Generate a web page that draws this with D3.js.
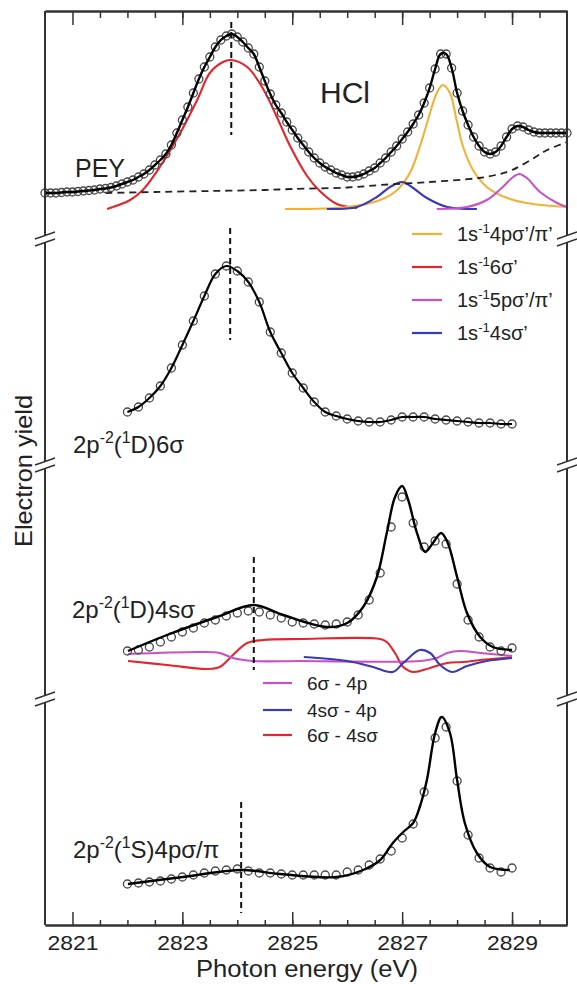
<!DOCTYPE html>
<html><head><meta charset="utf-8">
<script src="https://cdn.jsdelivr.net/npm/d3@7"></script>
<style>
body{margin:0;background:#fff}
svg{display:block}
text{font-family:"Liberation Sans",Arial,Helvetica,sans-serif;fill:#222}
</style>
</head><body>
<svg id="chart" width="577" height="984"></svg>
<script>
// ---------------- DATA ----------------
const majorTicks = [2821, 2823, 2825, 2827, 2829];
const minorTicks = [2821.5, 2822, 2822.5, 2823, 2823.5, 2824, 2824.5, 2825, 2825.5, 2826, 2826.5, 2827, 2827.5, 2828, 2828.5, 2829, 2829.5];

// Panel 1: HCl PEY (measured points)
const peyEnergy = [2820.5,2820.6,2820.7,2820.8,2820.9,2821.0,2821.1,2821.2,2821.3,2821.4,2821.5,2821.6,2821.7,2821.8,2821.9,2822.0,
 2822.1,2822.2,2822.3,2822.4,2822.5,2822.6,2822.7,2822.8,2822.9,2823.0,2823.1,2823.2,2823.3,2823.4,2823.5,2823.6,2823.7,2823.8,2823.9,2824.0,
 2824.1,2824.2,2824.3,2824.4,2824.5,2824.6,2824.7,2824.8,2824.9,2825.0,2825.1,2825.2,2825.3,2825.4,2825.5,2825.6,2825.7,2825.8,2825.9,2826.0,
 2826.1,2826.2,2826.3,2826.4,2826.5,2826.6,2826.7,2826.8,2826.9,2827.0,2827.1,2827.2,2827.3,2827.4,2827.5,2827.6,2827.7,2827.8,2827.9,2828.0,
 2828.1,2828.2,2828.3,2828.4,2828.5,2828.6,2828.7,2828.8,2828.9,2829.0,2829.1,2829.2,2829.3,2829.4,2829.5,2829.6,2829.7,2829.8,2829.9,2830.0];
const peyYield = [43,43,43,43.5,44,44,44.5,45,45.5,46,47,47.5,48.5,50,52,54,
 56,59,62,66,71,76,82,91,103,116,129,143,157,169,179,189,196,200,202,199,
 194,188,182,169,155,142,131,123,114,106,98,91,84,78,73,69,66,63,61,59,
 59,60,62,65,68,73,78,84,90,97,104,112,121,133,148,167,182,182,168,143,
 125,111,99,90,84,82,84,90,99,107,110,109,106,104,103,103,103,103,103,103];
const peyBackground = [[2821.6,43],[2822.5,44],[2823.5,45],[2824.5,46],[2825.0,47],[2826.0,48.5],[2826.6,51],[2827.5,54],[2828.4,58],[2828.7,61],[2829.0,66],[2829.4,78],[2829.64,86],[2830.0,94]];
const comp6s = [[2821.63,27],[2822.05,36],[2822.28,46],[2822.59,69],[2822.96,103],[2823.27,136],[2823.50,163],[2823.74,174],[2823.89,176],[2824.18,169],[2824.45,149],[2824.72,119],[2824.96,90],[2825.27,60],[2825.50,45],[2825.81,32],[2826.18,28]];
const comp4p = [[2824.87,27],[2826.0,29],[2826.6,36],[2826.91,46],[2827.14,63],[2827.32,89],[2827.47,116],[2827.63,143],[2827.74,151],[2827.87,143],[2827.99,116],[2828.11,89],[2828.29,66],[2828.54,49],[2828.91,38],[2829.38,32],[2830.0,29]];
const comp4s = [[2825.63,27],[2826.18,29],[2826.54,39],[2826.78,49],[2827.0,54],[2827.2,48],[2827.45,38],[2827.82,29],[2828.36,27]];
const comp5p = [[2827.63,27],[2828.18,29],[2828.54,36],[2828.83,49],[2829.02,59],[2829.13,62],[2829.27,58],[2829.51,44],[2829.82,33],[2830.0,29]];

// Panels 2-4: resonant Auger channels
const scanEnergy = [2822.0,2822.2,2822.4,2822.6,2822.8,2823.0,2823.2,2823.4,2823.6,2823.8,2824.0,2824.2,2824.4,2824.6,2824.8,2825.0,2825.2,2825.4,
 2825.6,2825.8,2826.0,2826.2,2826.4,2826.6,2826.8,2827.0,2827.2,2827.4,2827.6,2827.8,2828.0,2828.2,2828.4,2828.6,2828.8,2829.0];
const yield1D6s = [54,59,68,80,98,121,145,170,192,200,195,184,164,134,113,93,78,64,54,50,47,45,44,44,46,49,49,49,47,46,45,44,43,43,42,42];
const yield1D4s = [48,49,52,57,62,67,71,76,79,83,86,88,87,84,81,77,76,75,74,75,77,84,99,126,172,202,176,152,158,155,115,79,62,52,48,51];
const yield1S4p = [43,44,45,46,48,50,52,54,56,57,58,56,54,54,53,52,52,52,52,52,55,57,62,68,76,89,103,135,189,200,146,92,69,59,55,59];
const fit1D4s = [[2822.01,48],[2822.72,64],[2823.63,82],[2824.30,94],[2824.83,84],[2825.63,72],[2826.0,76],[2826.29,92],[2826.54,122],[2826.72,166],[2826.87,202],[2827.0,213],[2827.11,199],[2827.27,166],[2827.42,147],[2827.56,156],[2827.71,166],[2827.83,156],[2828.0,122],[2828.18,86],[2828.42,62],[2828.65,52],[2829.0,49]];
const int6s4s = [[2822.01,38],[2822.72,34],[2823.45,30],[2823.68,32],[2823.92,44],[2824.18,56],[2824.47,59],[2825.14,60],[2826.6,60],[2826.72,57],[2826.87,46],[2827.02,32],[2827.2,27],[2827.51,31],[2827.82,36],[2828.11,37],[2828.42,39],[2829.0,42]];
const int6s4p = [[2822.01,45],[2823.32,47],[2823.68,46],[2823.92,41],[2824.29,38],[2825.14,38],[2827.32,38],[2827.63,41],[2827.82,46],[2828.05,48],[2828.42,46],[2829.0,43]];
const int4s4p = [[2825.21,42],[2826.0,38],[2826.47,32],[2826.83,27],[2827.02,36],[2827.32,49],[2827.51,46],[2827.69,34],[2827.91,27],[2828.18,33],[2828.54,38],[2829.0,41]];
const fit1S4p = [[2822.01,43],[2823.01,50],[2824.07,57],[2824.78,53],[2825.81,50],[2826.29,57],[2826.6,67],[2826.83,84],[2827.02,95],[2827.2,104],[2827.32,120],[2827.45,147],[2827.6,194],[2827.72,210],[2827.87,194],[2828.0,147],[2828.14,104],[2828.36,74],[2828.6,60],[2828.96,57]];
const markerEnergy = [2823.89, 2823.87, 2824.30, 2824.07];

const legend1 = [["4pσ’/π’","#f2b134"],["6σ’","#e3262b"],["5pσ’/π’","#c951c6"],["4sσ’","#3a3ab5"]];
const legend2 = [["6σ - 4p","#c951c6"],["4sσ - 4p","#3a3ab5"],["6σ - 4sσ","#e3262b"]];

// ---------------- DRAW ----------------
const svg = d3.select("#chart");
const AX = "#333";
const x = d3.scaleLinear().domain([2820.5, 2830]).range([45, 567]);
const y1 = d3.scaleLinear().domain([0, 225]).range([236, 11]);
const y2 = d3.scaleLinear().domain([0, 230]).range([466, 236]);
const y3 = d3.scaleLinear().domain([0, 233]).range([699, 466]);
const y4 = d3.scaleLinear().domain([0, 228]).range([927, 699]);

const lineFn = ys => d3.line().x(d => x(d[0])).y(d => ys(d[1])).curve(d3.curveCatmullRom.alpha(0.5));
const zip = (a, b) => a.map((v, i) => [v, b[i]]);

function curve(data, ys, color, w, dash) {
  svg.append("path").datum(data).attr("d", lineFn(ys))
    .attr("fill", "none").attr("stroke", color).attr("stroke-width", w)
    .attr("stroke-dasharray", dash || null).attr("stroke-linejoin", "round");
}
function circles(data, ys, r) {
  svg.append("g").selectAll("circle").data(data).join("circle")
    .attr("cx", d => x(d[0])).attr("cy", d => ys(d[1])).attr("r", r)
    .attr("fill", "none").attr("stroke", "#4a4a4a").attr("stroke-width", 1.3);
}
function vmark(e, ya, yb) {
  svg.append("line").attr("x1", x(e)).attr("x2", x(e)).attr("y1", ya).attr("y2", yb)
    .attr("stroke", "#111").attr("stroke-width", 2).attr("stroke-dasharray", "6,4");
}
function richText(px, py, size, parts, fill) {
  const t = svg.append("text").attr("x", px).attr("y", py).attr("font-size", size).style("fill", fill || "#222");
  let up = false;
  parts.forEach(p => {
    const sup = p[1] === true;
    const ts = t.append("tspan").text(p[0]);
    if (sup && !up) { ts.attr("dy", -size * 0.42).attr("font-size", size * 0.66); up = true; }
    else if (sup) { ts.attr("font-size", size * 0.66); }
    else if (up) { ts.attr("dy", size * 0.42); up = false; }
  });
  return t;
}

// Panel 1
curve(comp6s, y1, "#e3262b", 2.1);
curve(comp4p, y1, "#f2b134", 2.1);
curve(comp4s, y1, "#3a3ab5", 2.1);
curve(comp5p, y1, "#c951c6", 2.1);
curve(peyBackground, y1, "#222", 1.8, "7,5");
const peyData = zip(peyEnergy, peyYield);
circles(peyData, y1, 4);
curve(peyData, y1, "#000", 2.4);
vmark(markerEnergy[0], 22, 135);

// Panel 2
const p2 = zip(scanEnergy, yield1D6s);
circles(p2, y2, 4);
curve(p2, y2, "#000", 2.2);
vmark(markerEnergy[1], 228, 340);

// Panel 3
curve(int6s4s, y3, "#e3262b", 2.1);
curve(int6s4p, y3, "#c951c6", 2.1);
curve(int4s4p, y3, "#3a3ab5", 2.1);
circles(zip(scanEnergy, yield1D4s), y3, 4);
curve(fit1D4s, y3, "#000", 2.4);
vmark(markerEnergy[2], 557, 670);

// Panel 4
circles(zip(scanEnergy, yield1S4p), y4, 4);
curve(fit1S4p, y4, "#000", 2.4);
vmark(markerEnergy[3], 802, 913);

// Axes (bottom)
const gb = svg.append("g").attr("transform", "translate(0,925)");
gb.call(d3.axisBottom(x).tickValues(minorTicks).tickSizeInner(-5).tickSizeOuter(0).tickFormat(""));
gb.append("g").call(d3.axisBottom(x).tickValues(majorTicks).tickSizeInner(-13).tickSizeOuter(0).tickPadding(10).tickFormat(d3.format("d")));
gb.selectAll("path.domain").attr("stroke", AX).attr("stroke-width", 2);
gb.selectAll(".tick line").attr("stroke", AX).attr("stroke-width", 1.5);
gb.selectAll(".tick text").attr("font-size", 21).attr("font-family", "Liberation Sans, Arial, sans-serif")
  .attr("fill", "#222").attr("textLength", 51).attr("lengthAdjust", "spacingAndGlyphs");
// Axes (top)
const gt = svg.append("g").attr("transform", "translate(0,11)");
gt.call(d3.axisTop(x).tickValues(minorTicks).tickSizeInner(-7).tickSizeOuter(0).tickFormat(""));
gt.append("g").call(d3.axisTop(x).tickValues(majorTicks).tickSizeInner(-14).tickSizeOuter(0).tickFormat(""));
gt.selectAll("path.domain").attr("stroke", AX).attr("stroke-width", 2);
gt.selectAll(".tick line").attr("stroke", AX).attr("stroke-width", 1.5);

// Vertical frame lines with breaks
const breaks = [239, 465, 699];
[45, 567].forEach(ax => {
  const segs = [11].concat(breaks.flatMap(b => [b - 3.5, b + 3.5])).concat([925]);
  for (let i = 0; i < segs.length; i += 2) {
    svg.append("line").attr("x1", ax).attr("x2", ax).attr("y1", segs[i]).attr("y2", segs[i + 1])
      .attr("stroke", AX).attr("stroke-width", 2);
  }
  breaks.forEach(b => {
    [-3.5, 3.5].forEach(o => {
      svg.append("line").attr("x1", ax - 10).attr("y1", b + o + 3.5).attr("x2", ax + 10).attr("y2", b + o - 3.5)
        .attr("stroke", AX).attr("stroke-width", 1.5);
    });
  });
});

// Labels
svg.append("text").attr("x", 75).attr("y", 177).attr("font-size", 25).text("PEY");
svg.append("text").attr("x", 320).attr("y", 103).attr("font-size", 30).text("HCl");
richText(73, 453, 24, [["2p"], ["-2", true], ["("], ["1", true], ["D)6σ"]]);
richText(72, 618, 24, [["2p"], ["-2", true], ["("], ["1", true], ["D)4sσ"]]);
richText(73, 858, 24, [["2p"], ["-2", true], ["("], ["1", true], ["S)4pσ/π"]]);

// Legend 1
const l1y = [234, 267, 300, 333];
legend1.forEach((d, i) => {
  svg.append("line").attr("x1", 412).attr("x2", 442).attr("y1", l1y[i]).attr("y2", l1y[i])
    .attr("stroke", d[1]).attr("stroke-width", 2.2);
  richText(457, l1y[i] + 7, 20, [["1s"], ["-1", true], [d[0]]]);
});
// Legend 2
const l2y = [683, 710, 735];
legend2.forEach((d, i) => {
  svg.append("line").attr("x1", 263).attr("x2", 292).attr("y1", l2y[i]).attr("y2", l2y[i])
    .attr("stroke", d[1]).attr("stroke-width", 2.2);
  svg.append("text").attr("x", 307).attr("y", l2y[i] + 7).attr("font-size", 19).text(d[0]);
});

// Axis titles
svg.append("text").attr("transform", "translate(32,471) rotate(-90)").attr("text-anchor", "middle")
  .attr("font-size", 24).attr("textLength", 152).attr("lengthAdjust", "spacingAndGlyphs").text("Electron yield");
svg.append("text").attr("x", 307).attr("y", 977).attr("text-anchor", "middle").attr("font-size", 23)
  .attr("textLength", 222).attr("lengthAdjust", "spacingAndGlyphs").text("Photon energy (eV)");
</script>
</body></html>
